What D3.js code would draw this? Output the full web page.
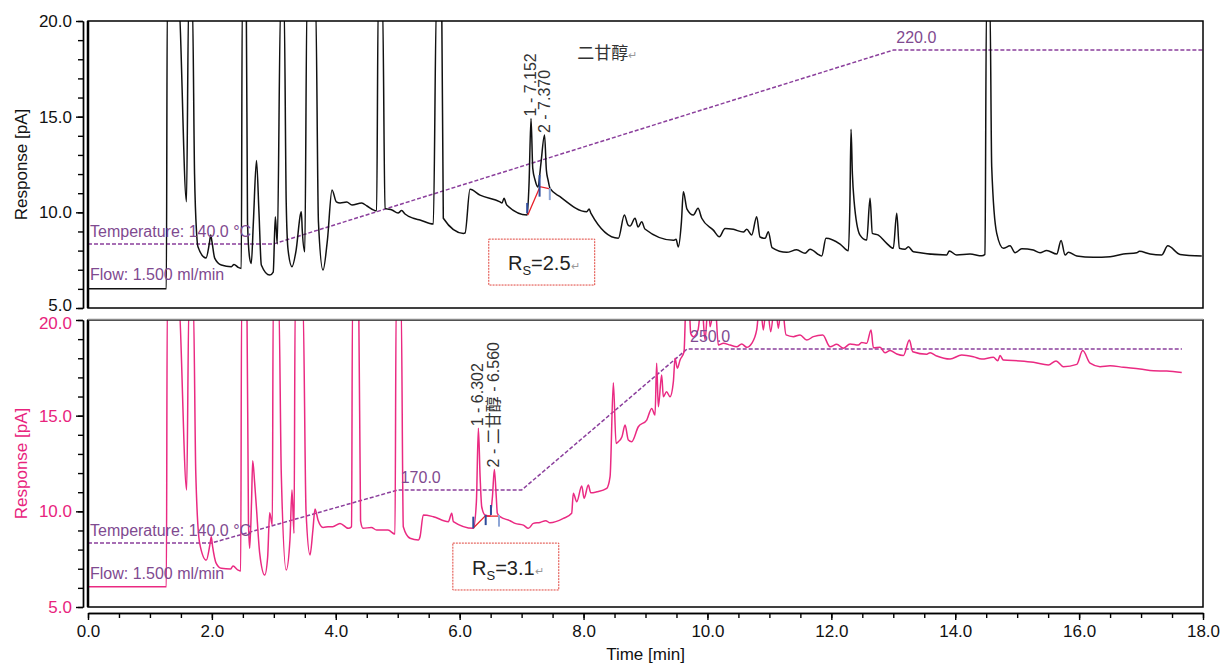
<!DOCTYPE html>
<html>
<head>
<meta charset="utf-8">
<script src="https://cdn.jsdelivr.net/npm/d3@7"></script>
<style>
  body { margin: 0; background: #fff; }
  svg { display: block; font-family: "Liberation Sans", Arial, sans-serif; }
</style>
</head>
<body>
<svg id="chart" width="1221" height="663"></svg>
<script>
// chromatogram traces: [time (min), response (pA)]
// a response of 21 means the peak runs off the top of the 5-20 window
const blackTrace = [
  [0, 6.0], [1.265, 6.0], [1.28, 21], [1.46, 21], [1.59, 10.55], [1.625, 21], [1.685, 21],
  [1.72, 12.0], [1.753, 8.92], [1.775, 8.2], [1.905, 7.61], [1.96, 8.4], [1.981, 8.81], [2.0, 8.5],
  [2.045, 7.61], [2.152, 7.25], [2.314, 7.16], [2.357, 7.28], [2.422, 7.13], [2.475, 7.07],
  [2.49, 21], [2.555, 21], [2.575, 9.5], [2.61, 7.6], [2.636, 7.33], [2.67, 9.5], [2.72, 12.71],
  [2.76, 10.0], [2.798, 7.25], [2.934, 6.72], [2.99, 6.88], [3.024, 9.77], [3.056, 8.34],
  [3.11, 21], [3.165, 21], [3.2, 10.5], [3.23, 8.03], [3.293, 7.16], [3.36, 8.03], [3.43, 9.9],
  [3.444, 10.03], [3.46, 9.0], [3.5, 7.94], [3.535, 21], [3.675, 21], [3.72, 9.5], [3.794, 6.98],
  [3.865, 8.55], [3.939, 11.17], [4.009, 10.55], [4.07, 10.49], [4.177, 10.54], [4.262, 10.38],
  [4.419, 10.49], [4.504, 10.33], [4.66, 10.08], [4.685, 21], [4.755, 21], [4.795, 10.21],
  [4.908, 10.12], [5.005, 9.96], [5.063, 10.09], [5.118, 9.91], [5.252, 9.69], [5.36, 9.6],
  [5.575, 9.39], [5.625, 21], [5.71, 21], [5.736, 9.69], [6.06, 8.9], [6.087, 8.92], [6.167, 11.2],
  [6.329, 10.9], [6.652, 10.55], [6.684, 10.49], [6.716, 10.73], [6.76, 10.38], [7.09, 9.86],
  [7.12, 11.5], [7.152, 14.91], [7.18, 12.3], [7.217, 11.69], [7.265, 11.32], [7.31, 12.5],
  [7.37, 14.04], [7.4, 12.2], [7.427, 11.69], [7.459, 11.25], [7.62, 10.82], [8.051, 10.03],
  [8.09, 10.17], [8.12, 9.94], [8.562, 8.64], [8.659, 9.86], [8.718, 9.34], [8.75, 9.28],
  [8.831, 9.69], [8.88, 9.23], [8.939, 9.51], [8.99, 9.13], [9.45, 8.54], [9.493, 8.59],
  [9.53, 8.19], [9.58, 9.5], [9.611, 11.08], [9.67, 10.17], [9.773, 9.86], [9.848, 10.21],
  [9.908, 9.69], [10.095, 9.07], [10.192, 8.72], [10.284, 9.16], [10.418, 9.11], [10.58, 8.97],
  [10.634, 9.11], [10.714, 8.81], [10.795, 9.77], [10.849, 8.71], [10.93, 8.64], [10.983, 8.99],
  [11.043, 8.16], [11.28, 7.91], [11.44, 8.04], [11.576, 7.86], [11.656, 8.07], [11.845, 7.72],
  [11.914, 8.64], [12.141, 8.34], [12.275, 7.99], [12.3, 10.5], [12.318, 14.34], [12.34, 12.0],
  [12.366, 10.64], [12.463, 8.81], [12.571, 8.55], [12.625, 10.73], [12.662, 8.9], [12.759, 8.81],
  [12.894, 8.38], [13.0, 8.12], [13.056, 9.95], [13.098, 8.12], [13.19, 8.07], [13.243, 8.2],
  [13.324, 7.94], [13.862, 7.77], [13.904, 7.98], [14.024, 7.77], [14.239, 7.82], [14.428, 7.73],
  [14.48, 7.8], [14.505, 21], [14.56, 21], [14.589, 12.38], [14.67, 8.9], [14.777, 8.12],
  [14.885, 8.25], [14.966, 7.89], [15.074, 8.1], [15.261, 8.03], [15.369, 7.89], [15.477, 8.01],
  [15.639, 7.82], [15.709, 8.53], [15.773, 7.77], [15.827, 7.91], [15.962, 7.72], [16.23, 7.65],
  [16.5, 7.68], [16.715, 7.82], [16.93, 7.89], [16.973, 7.96], [17.146, 7.82], [17.334, 7.77],
  [17.431, 8.25], [17.63, 7.8], [17.98, 7.72]
];

const pinkTrace = [
  [0, 6.06], [1.265, 6.06], [1.28, 21], [1.46, 21], [1.593, 11.11], [1.63, 21], [1.7, 21],
  [1.74, 12.0], [1.803, 8.33], [1.91, 7.45], [1.97, 8.3], [1.99, 8.67], [2.01, 8.2], [2.07, 7.28],
  [2.152, 7.02], [2.3, 6.98], [2.341, 7.14], [2.422, 6.93], [2.465, 6.88], [2.48, 21], [2.565, 21],
  [2.59, 9.5], [2.61, 8.07], [2.64, 10.5], [2.659, 12.65], [2.69, 11.5], [2.718, 10.24],
  [2.772, 7.8], [2.853, 6.67], [2.9, 7.6], [2.933, 9.93], [2.976, 9.28], [2.99, 21], [3.08, 21],
  [3.12, 12.0], [3.2, 6.93], [3.26, 8.5], [3.293, 11.11], [3.326, 8.85], [3.345, 21], [3.47, 21],
  [3.52, 10.0], [3.584, 7.72], [3.63, 9.0], [3.665, 10.12], [3.713, 9.55], [3.794, 9.16],
  [3.875, 9.19], [3.95, 9.2], [4.068, 9.37], [4.203, 9.11], [4.255, 9.2], [4.27, 21], [4.37, 21],
  [4.4, 9.5], [4.44, 9.11], [4.574, 9.16], [4.66, 9.02], [4.843, 9.02], [4.956, 8.81],
  [4.975, 21], [5.055, 21], [5.09, 9.19], [5.199, 8.59], [5.333, 8.5], [5.36, 8.67], [5.413, 9.81],
  [5.575, 9.72], [5.817, 9.46], [5.872, 9.9], [5.898, 9.46], [6.221, 9.11], [6.27, 10.5],
  [6.302, 14.34], [6.33, 11.8], [6.356, 10.24], [6.409, 9.81], [6.49, 9.75], [6.53, 10.8],
  [6.56, 12.19], [6.59, 10.8], [6.608, 9.9], [6.652, 9.72], [6.813, 9.51], [6.894, 9.37],
  [7.028, 9.28], [7.109, 9.11], [7.19, 9.37], [7.297, 9.42], [7.389, 9.51], [7.459, 9.4],
  [7.674, 9.63], [7.808, 9.9], [7.835, 10.94], [7.89, 10.5], [7.971, 11.32], [8.008, 10.68],
  [8.077, 11.37], [8.116, 10.97], [8.213, 11.02], [8.374, 11.2], [8.428, 11.81], [8.481, 16.72],
  [8.525, 13.55], [8.562, 13.64], [8.62, 13.9], [8.67, 14.51], [8.723, 13.73], [8.777, 13.64],
  [8.884, 14.42], [9.02, 14.77], [9.1, 15.38], [9.154, 15.03], [9.18, 17.74], [9.207, 15.47],
  [9.261, 17.12], [9.288, 15.99], [9.34, 16.25], [9.396, 15.99], [9.45, 16.78], [9.477, 18.0],
  [9.514, 17.48], [9.558, 17.91], [9.622, 18.34], [9.655, 21], [9.7, 21], [9.73, 19.3],
  [9.772, 19.13], [9.848, 19.48], [9.907, 21], [9.961, 18.95], [10.015, 21], [10.042, 19.65],
  [10.122, 21], [10.176, 18.69], [10.257, 18.78], [10.365, 18.69], [10.473, 18.6], [10.553, 18.75],
  [10.634, 18.57], [10.715, 18.78], [10.795, 19.48], [10.849, 21], [10.902, 19.48], [10.957, 21],
  [11.021, 19.39], [11.091, 21], [11.145, 19.57], [11.198, 21], [11.269, 19.22], [11.387, 19.13],
  [11.495, 19.22], [11.603, 18.95], [11.71, 19.13], [11.861, 19.22], [11.979, 18.6],
  [12.087, 18.73], [12.194, 18.52], [12.302, 18.75], [12.436, 18.69], [12.49, 18.83],
  [12.571, 18.78], [12.641, 19.48], [12.679, 18.55], [12.786, 18.57], [12.867, 18.29],
  [12.948, 18.4], [13.056, 18.22], [13.163, 18.14], [13.26, 18.95], [13.314, 18.34], [13.54, 18.21],
  [13.594, 18.29], [13.702, 18.12], [13.917, 17.96], [14.105, 18.17], [14.293, 18.08],
  [14.428, 17.96], [14.616, 18.05], [14.686, 17.87], [14.724, 18.14], [14.777, 17.91],
  [15.047, 17.86], [15.262, 17.79], [15.504, 17.65], [15.628, 17.86], [15.746, 17.56],
  [15.962, 17.68], [16.058, 18.4], [16.177, 17.74], [16.338, 17.56], [16.5, 17.61], [16.715, 17.53],
  [16.984, 17.44], [17.2, 17.35], [17.415, 17.33], [17.657, 17.25]
];

// oven programmes: [time (min), temperature (°C)]
const tempTop = [[0, 140], [3, 140], [13, 220], [18, 220]];
const tempBottom = [[0, 140], [2, 140], [5, 170], [7, 170], [9.67, 250], [17.66, 250]];
const flowRate = 1.5;

// axis ticks
const yTicks = [5, 10, 15, 20];
const yMinor = d3.range(5, 21, 1);
const xTicks = d3.range(0, 19, 2);
const xMinor = d3.range(0, 18.5, 0.5);

// labelled peaks: [time, apex response, label]
const peaksTop = [[7.152, 14.91, '1 - 7.152'], [7.370, 14.04, '2 - 7.370']];
const peaksBottom = [[6.302, 14.34, '1 - 6.302'], [6.560, 12.19, '2 - 二甘醇 - 6.560']];

// integration baselines and peak start/end marks [time, from, to]
const baseTop = [[7.10, 9.86], [7.297, 11.34], [7.459, 11.22]];
const marksTop = [[7.09, 9.96, 10.49], [7.29, 10.82, 11.95], [7.455, 10.64, 11.27]];
const baseBottom = [[6.221, 9.13], [6.41, 9.75], [6.635, 9.75]];
const marksBottom = [[6.22, 9.11, 9.72], [6.42, 9.28, 9.81], [6.505, 9.81, 10.33], [6.635, 9.2, 9.81]];

// resolution values
const resolution = [2.5, 3.1];

const svg = d3.select('#chart');
const x = d3.scaleLinear().domain([0, 18]).range([88, 1203]);
const purple = '#8b3f9c';

function drawPanel(opt) {
  const { top, bottom, trace, temp, lineColor, labelColor, peaks, base, marks, rs, rsBox, id, nudge } = opt;
  const y = d3.scaleLinear().domain([5, 20]).range([bottom, top]);
  // temperature overlay sits between 8.35 and 18.48 of the response axis
  const tY = d3.scaleLinear().domain(d3.extent(temp, d => d[1])).range([8.35, 18.48]);
  const g = svg.append('g');

  g.append('clipPath').attr('id', id)
    .append('rect')
    .attr('x', x(0)).attr('y', top)
    .attr('width', x(18) - x(0)).attr('height', bottom - top);

  // y axis, offset left of the frame
  const yAxis = g.append('g').attr('transform', 'translate(83,0)').attr('color', '#000');
  yAxis.call(d3.axisLeft(y).tickValues(yMinor).tickSize(5).tickSizeOuter(0).tickFormat(() => ''));
  const yMajor = g.append('g').attr('transform', 'translate(83,0)').attr('color', '#000');
  yMajor.call(d3.axisLeft(y).tickValues(yTicks).tickSize(7).tickSizeOuter(0).tickPadding(4)
    .tickFormat(d3.format('.1f')));
  yMajor.selectAll('text')
    .attr('font-size', 17)
    .attr('font-family', '"Liberation Sans", Arial')
    .attr('fill', labelColor)
    .attr('dy', d => d === nudge[0] ? `${0.32 + nudge[1]}em` : '0.32em');
  g.selectAll('.domain, .tick line').attr('stroke-width', 1.4);

  g.append('text')
    .attr('transform', `translate(27,${(top + bottom) / 2}) rotate(-90)`)
    .attr('text-anchor', 'middle')
    .attr('font-size', 17)
    .attr('fill', labelColor)
    .text('Response [pA]');

  const plot = g.append('g').attr('clip-path', `url(#${id})`);

  // oven temperature programme
  plot.append('path')
    .datum(temp)
    .attr('fill', 'none')
    .attr('stroke', purple)
    .attr('stroke-width', 1.5)
    .attr('stroke-dasharray', '4,2')
    .attr('d', d3.line().x(d => x(d[0])).y(d => y(tY(d[1]))));

  // the chromatogram
  plot.append('path')
    .datum(trace)
    .attr('fill', 'none')
    .attr('stroke', lineColor)
    .attr('stroke-width', 1.5)
    .attr('stroke-linejoin', 'round')
    .attr('d', d3.line().x(d => x(d[0])).y(d => y(d[1])).curve(d3.curveMonotoneX));

  // integration baseline and marks
  plot.append('path')
    .datum(base)
    .attr('fill', 'none')
    .attr('stroke', '#e8202a')
    .attr('stroke-width', 1.3)
    .attr('d', d3.line().x(d => x(d[0])).y(d => y(d[1])));
  plot.selectAll('line.mark')
    .data(marks)
    .join('line')
    .attr('class', 'mark')
    .attr('x1', d => x(d[0])).attr('x2', d => x(d[0]))
    .attr('y1', d => y(d[1])).attr('y2', d => y(d[2]))
    .attr('stroke', (d, i) => i === marks.length - 1 ? '#8ea6d6' : '#2d4b9b')
    .attr('stroke-width', 2);

  // temperature labels
  g.append('text')
    .attr('x', 90).attr('y', y(tY(temp[0][1])) - 7)
    .attr('font-size', 16).attr('fill', '#7f4a90')
    .text(`Temperature: ${temp[0][1].toFixed(1)} °C`);
  g.append('text')
    .attr('x', 90).attr('y', y(6.45))
    .attr('font-size', 16).attr('fill', '#7f4a90')
    .text(`Flow: ${flowRate.toFixed(3)} ml/min`);
  const holds = temp.filter((d, i) => i > 0 && i < temp.length - 1 && d[1] !== temp[i - 1][1]);
  g.selectAll('text.hold')
    .data(holds)
    .join('text')
    .attr('class', 'hold')
    .attr('x', d => x(d[0]) + 3)
    .attr('y', d => y(tY(d[1])) - 7)
    .attr('font-size', 16).attr('fill', '#7f4a90')
    .text(d => d[1].toFixed(1));

  // peak labels
  g.selectAll('text.peak')
    .data(peaks)
    .join('text')
    .attr('class', 'peak')
    .attr('transform', d => `translate(${x(d[0]) + 5},${y(d[1]) - 2}) rotate(-90)`)
    .attr('font-size', 16)
    .attr('font-family', '"Liberation Sans", "Noto Sans CJK SC", sans-serif')
    .attr('fill', '#333')
    .text(d => d[2]);

  // resolution box
  g.append('rect')
    .attr('x', x(rsBox[0])).attr('y', y(rsBox[3]))
    .attr('width', x(rsBox[1]) - x(rsBox[0]))
    .attr('height', y(rsBox[2]) - y(rsBox[3]))
    .attr('fill', 'none')
    .attr('stroke', '#e0443c')
    .attr('stroke-width', 1)
    .attr('stroke-dasharray', '2,1');
  const rsText = g.append('text')
    .attr('x', (x(rsBox[0]) + x(rsBox[1])) / 2 + 2)
    .attr('y', (y(rsBox[2]) + y(rsBox[3])) / 2 + 8)
    .attr('text-anchor', 'middle')
    .attr('font-size', 20)
    .attr('fill', '#222');
  rsText.append('tspan').text('R');
  rsText.append('tspan').attr('font-size', 13).attr('dy', 5).text('S');
  rsText.append('tspan').attr('dy', -5).text(`=${rs.toFixed(1)}`);
  rsText.append('tspan').attr('font-size', 11).attr('fill', '#999').text('↵');

  // frame
  g.append('rect')
    .attr('x', x(0)).attr('y', top)
    .attr('width', x(18) - x(0)).attr('height', bottom - top)
    .attr('fill', 'none')
    .attr('stroke', '#000')
    .attr('stroke-width', 1.5);
  g.append('line')
    .attr('x1', x(0)).attr('x2', x(0)).attr('y1', top).attr('y2', bottom)
    .attr('stroke', '#000').attr('stroke-width', 2.5);
  return { g, y };
}

// the lowest label of the top panel and the highest of the lower one sit close together
const topPanel = drawPanel({
  id: 'clipTop', top: 21, bottom: 308, trace: blackTrace, temp: tempTop,
  lineColor: '#111', labelColor: '#111', peaks: peaksTop, base: baseTop, marks: marksTop,
  rs: resolution[0], rsBox: [6.47, 8.18, 6.2, 8.6], nudge: [5, -0.17]
});
const bottomPanel = drawPanel({
  id: 'clipBottom', top: 320, bottom: 607, trace: pinkTrace, temp: tempBottom,
  lineColor: '#ea2a82', labelColor: '#e8237d', peaks: peaksBottom, base: baseBottom, marks: marksBottom,
  rs: resolution[1], rsBox: [5.89, 7.6, 5.89, 8.34], nudge: [20, 0.17]
});

// grey divider on top of the lower frame
svg.append('line')
  .attr('x1', x(0)).attr('x2', x(18)).attr('y1', 319.5).attr('y2', 319.5)
  .attr('stroke', '#8a8a8a').attr('stroke-width', 1.5);

// compound name above the top peaks
const name = svg.append('text')
  .attr('x', x(7.9)).attr('y', topPanel.y(18.0))
  .attr('font-size', 17)
  .attr('font-family', '"Noto Sans CJK SC", sans-serif')
  .attr('fill', '#333');
name.append('tspan').text('二甘醇');
name.append('tspan').attr('font-size', 11).attr('fill', '#999').text('↵');

// shared time axis
const xMinorG = svg.append('g').attr('transform', 'translate(0,613)').attr('color', '#000');
xMinorG.call(d3.axisBottom(x).tickValues(xMinor).tickSize(5).tickSizeOuter(0).tickFormat(() => ''));
const xAxis = svg.append('g').attr('transform', 'translate(0,613)').attr('color', '#000');
xAxis.call(d3.axisBottom(x).tickValues(xTicks).tickSize(7).tickSizeOuter(0).tickPadding(5)
  .tickFormat(d3.format('.1f')));
xAxis.selectAll('text').attr('font-size', 17).attr('font-family', '"Liberation Sans", Arial').attr('fill', '#111');
svg.selectAll('.domain, .tick line').attr('stroke-width', 1.4);

svg.append('text')
  .attr('x', (x(0) + x(18)) / 2).attr('y', 660)
  .attr('text-anchor', 'middle')
  .attr('font-size', 17)
  .attr('fill', '#111')
  .text('Time [min]');
</script>
</body>
</html>
